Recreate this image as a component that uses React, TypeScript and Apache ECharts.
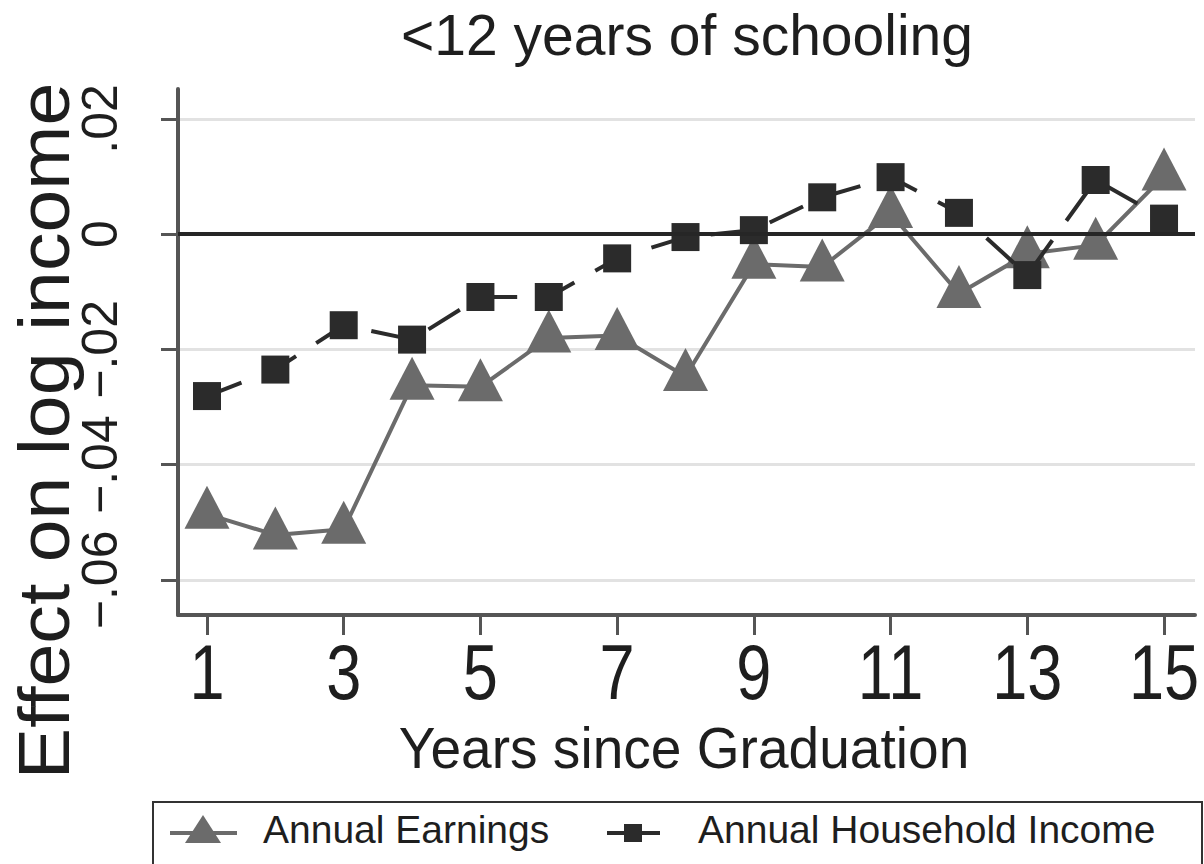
import React, { useEffect, useRef } from "react";
import * as echarts from "echarts";

// Years since graduation and the estimated effects on log income
const years = [1, 2, 3, 4, 5, 6, 7, 8, 9, 10, 11, 12, 13, 14, 15];
const annualEarnings = [
  -0.0486, -0.0522, -0.0512, -0.0262, -0.0265, -0.018, -0.0176, -0.0247,
  -0.0052, -0.0057, 0.0036, -0.0103, -0.0034, -0.0019, 0.0101,
];
const householdIncome = [
  -0.0281, -0.0235, -0.0158, -0.0183, -0.0109, -0.0109, -0.0042, -0.0005,
  0.0007, 0.0064, 0.0099, 0.0037, -0.0071, 0.0094, 0.0027,
];
const xTickValues = [1, 3, 5, 7, 9, 11, 13, 15];
const yTickValues = [-0.06, -0.04, -0.02, 0, 0.02];
const seriesNames = ["Annual Earnings", "Annual Household Income"];
const chartTitle = "<12 years of schooling";
const xAxisTitle = "Years since Graduation";
const yAxisTitle = "Effect on log income";

const FONT = '"Liberation Sans", Arial, sans-serif';
const EARN_COLOR = "#6b6b6b";
const HH_COLOR = "#2b2b2b";
const TEXT_COLOR = "#1e1e1e";

function formatY(v: number): string {
  if (Math.abs(v) < 1e-9) return "0";
  const s = "." + String(Math.round(Math.abs(v) * 100)).padStart(2, "0");
  return v < 0 ? "\u2212" + s : s;
}

export default function App() {
  const ref = useRef<HTMLDivElement>(null);

  useEffect(() => {
    if (!ref.current) return;
    const chart = echarts.init(ref.current, undefined, { renderer: "svg" });

    chart.setOption({
      animation: false,
      backgroundColor: "#ffffff",
      title: {
        text: chartTitle,
        left: 682,
        top: 1,
        textAlign: "center",
        textStyle: {
          fontFamily: FONT,
          fontSize: 57,
          fontWeight: "normal",
          color: TEXT_COLOR,
        },
      },
      grid: { left: 178, right: 9, top: 89, bottom: 249 },
      xAxis: {
        type: "value",
        min: 0.576,
        max: 15.453,
        axisLine: { show: true, onZero: false, lineStyle: { color: "#555", width: 4 } },
        axisTick: {
          show: true,
          customValues: xTickValues,
          length: 20,
          lineStyle: { color: "#555", width: 3 },
        },
        // tick labels are set in a condensed face below, at the axis' own tick positions
        axisLabel: { show: false },
        splitLine: { show: false },
      },
      yAxis: {
        type: "value",
        min: -0.0661,
        max: 0.0252,
        axisLine: { show: true, onZero: false, lineStyle: { color: "#555", width: 4 } },
        axisTick: {
          show: true,
          customValues: yTickValues,
          length: 17,
          lineStyle: { color: "#555", width: 3 },
        },
        axisLabel: {
          customValues: yTickValues,
          rotate: 90,
          fontFamily: FONT,
          fontSize: 50,
          color: TEXT_COLOR,
          margin: 53,
          formatter: (v: number) => formatY(v),
        },
        splitLine: { show: true, lineStyle: { color: "#e2e2e2", width: 3 } },
      },
      series: [
        {
          name: seriesNames[0],
          type: "line",
          data: years.map((x, i) => [x, annualEarnings[i]]),
          symbol: "triangle",
          symbolSize: [45, 43],
          symbolOffset: [0, -7],
          lineStyle: { color: EARN_COLOR, width: 4 },
          itemStyle: { color: EARN_COLOR },
          z: 3,
          markLine: {
            silent: true,
            symbol: "none",
            label: { show: false },
            lineStyle: { color: "#262626", width: 4, type: "solid" },
            data: [{ yAxis: 0 }],
          },
        },
        {
          name: seriesNames[1],
          type: "line",
          data: years.map((x, i) => [x, householdIncome[i]]),
          symbol: "rect",
          symbolSize: 28,
          lineStyle: { color: HH_COLOR, width: 4, type: [37, 24] },
          itemStyle: { color: HH_COLOR },
          z: 4,
        },
      ],
    });

    // x tick labels, placed at the pixel positions of the axis ticks
    const xLabels = xTickValues.map((v) => ({
      type: "text",
      x: chart.convertToPixel({ xAxisIndex: 0 }, v) as number,
      y: 672,
      scaleX: 0.82,
      style: {
        text: String(v),
        font: `77px ${FONT}`,
        fill: TEXT_COLOR,
        textAlign: "center",
        textVerticalAlign: "middle",
      },
    }));

    chart.setOption({
      graphic: [
        ...xLabels,
        {
          type: "text",
          x: 44,
          y: 431,
          rotation: Math.PI / 2,
          scaleX: 1.07,
          style: {
            text: yAxisTitle,
            font: `72px ${FONT}`,
            fill: TEXT_COLOR,
            textAlign: "center",
            textVerticalAlign: "middle",
          },
        },
        {
          type: "text",
          x: 684,
          y: 748,
          scaleX: 0.95,
          style: {
            text: xAxisTitle,
            font: `58px ${FONT}`,
            fill: TEXT_COLOR,
            textAlign: "center",
            textVerticalAlign: "middle",
          },
        },
        // legend box
        {
          type: "rect",
          shape: { x: 153, y: 802, width: 1049, height: 66 },
          style: { fill: "#ffffff", stroke: "#333", lineWidth: 2 },
        },
        {
          type: "line",
          shape: { x1: 170, y1: 833, x2: 237, y2: 833 },
          style: { stroke: EARN_COLOR, lineWidth: 4 },
        },
        {
          type: "polygon",
          shape: { points: [[203, 815], [185, 843], [221, 843]] },
          style: { fill: EARN_COLOR },
        },
        {
          type: "text",
          x: 263,
          y: 829,
          style: {
            text: seriesNames[0],
            font: `39px ${FONT}`,
            fill: TEXT_COLOR,
            textAlign: "left",
            textVerticalAlign: "middle",
          },
        },
        {
          type: "line",
          shape: { x1: 607, y1: 833, x2: 660, y2: 833 },
          style: { stroke: HH_COLOR, lineWidth: 4 },
        },
        {
          type: "rect",
          shape: { x: 624, y: 824, width: 18, height: 18 },
          style: { fill: HH_COLOR },
        },
        {
          type: "text",
          x: 698,
          y: 829,
          style: {
            text: seriesNames[1],
            font: `39px ${FONT}`,
            fill: TEXT_COLOR,
            textAlign: "left",
            textVerticalAlign: "middle",
          },
        },
      ],
    });

    return () => chart.dispose();
  }, []);

  return (
    <div
      ref={ref}
      style={{ position: "absolute", left: 0, top: 0, width: 1204, height: 864 }}
    />
  );
}
